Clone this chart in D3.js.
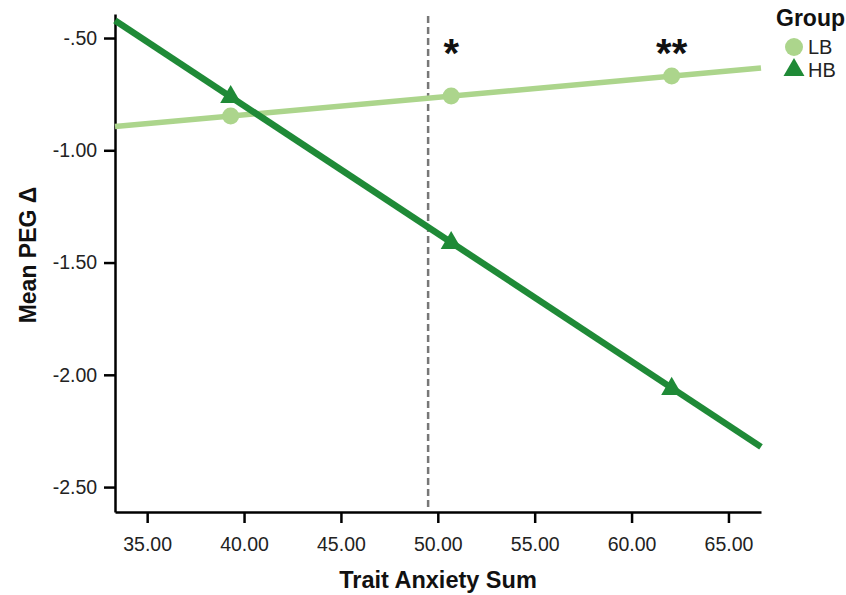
<!DOCTYPE html>
<html>
<head>
<meta charset="utf-8">
<script src="https://cdn.jsdelivr.net/npm/d3@7"></script>
<style>
  body { margin: 0; background: #fff; }
  svg { display: block; font-family: "Liberation Sans", Arial, sans-serif; }
</style>
</head>
<body>
<svg id="chart" width="846" height="595"></svg>
<script>
// ---- data ----
const groups = ["LB", "HB"];
const pointX = [39.31, 50.69, 62.07];          // mean -1SD, mean, +1SD of trait anxiety
const lbPointY = [-0.847, -0.758, -0.669];
const hbPointY = [-0.763, -1.413, -2.063];
const lineEndX = [33.34, 66.68];               // regression lines across the axis range
const lbLineY = [-0.894, -0.634];
const hbLineY = [-0.422, -2.321];
const cutoffX = 49.5;                           // dashed reference line
const sigMarks = [{ x: 50.69, label: "*" }, { x: 62.07, label: "**" }];
const xTicks = [35, 40, 45, 50, 55, 60, 65];
const yTicks = [-0.5, -1.0, -1.5, -2.0, -2.5];
const colors = { LB: "#acd58c", HB: "#1f8a37" };

// ---- layout ----
const svg = d3.select("#chart");
const m = { left: 115, right: 761, top: 14, bottom: 512 };
const x = d3.scaleLinear().domain([33.34, 66.68]).range([m.left, m.right]);
const y = d3.scaleLinear().domain([-2.611, -0.393]).range([m.bottom, m.top]);
const fmt = v => d3.format(".2f")(v).replace("\u2212", "-").replace(/^(-?)0\./, "$1.");

// axes
const xAxis = svg.append("g").attr("transform", `translate(0,${m.bottom})`)
  .call(d3.axisBottom(x).tickValues(xTicks).tickFormat(d3.format(".2f")).tickSize(11).tickSizeOuter(0));
const yAxis = svg.append("g").attr("transform", `translate(${m.left},0)`)
  .call(d3.axisLeft(y).tickValues(yTicks).tickFormat(fmt).tickSize(11).tickSizeOuter(0));
[xAxis, yAxis].forEach(g => {
  g.select(".domain").attr("stroke", "#000").attr("stroke-width", 2.5);
  g.selectAll(".tick line").attr("stroke", "#000").attr("stroke-width", 2.5);
  g.selectAll(".tick text").attr("fill", "#222").attr("font-size", 19.5)
    .attr("font-family", "Liberation Sans, Arial, sans-serif");
});
xAxis.selectAll(".tick text").attr("dy", "1.3em");
yAxis.selectAll(".tick text").attr("dx", "-0.2em");

// axis titles
svg.append("text").attr("x", 438).attr("y", 588).attr("text-anchor", "middle")
  .attr("font-size", 23.5).attr("font-weight", "bold").attr("fill", "#111").text("Trait Anxiety Sum");
svg.append("text").attr("transform", "translate(36,255) rotate(-90)").attr("text-anchor", "middle")
  .attr("font-size", 23).attr("font-weight", "bold").attr("fill", "#111").text("Mean PEG Δ");

// dashed reference line
svg.append("line").attr("x1", x(cutoffX)).attr("x2", x(cutoffX))
  .attr("y1", m.top + 2).attr("y2", m.bottom - 2)
  .attr("stroke", "#777").attr("stroke-width", 2.5).attr("stroke-dasharray", "7,4");

// lines
const line = d3.line().x(d => x(d[0])).y(d => y(d[1]));
svg.append("path").datum(d3.zip(lineEndX, lbLineY)).attr("d", line)
  .attr("fill", "none").attr("stroke", colors.LB).attr("stroke-width", 5.5);
svg.append("path").datum(d3.zip(lineEndX, hbLineY)).attr("d", line)
  .attr("fill", "none").attr("stroke", colors.HB).attr("stroke-width", 6.5);

// markers
svg.selectAll(".lbpt").data(d3.zip(pointX, lbPointY)).join("circle")
  .attr("cx", d => x(d[0])).attr("cy", d => y(d[1])).attr("r", 8.5).attr("fill", colors.LB);
const tri = d3.symbol().type(d3.symbolTriangle).size(190);
svg.selectAll(".hbpt").data(d3.zip(pointX, hbPointY)).join("path")
  .attr("d", tri).attr("transform", d => `translate(${x(d[0])},${y(d[1])})`).attr("fill", colors.HB);

// significance marks
svg.selectAll(".sig").data(sigMarks).join("text")
  .attr("x", d => x(d.x)).attr("y", 67).attr("text-anchor", "middle")
  .attr("font-size", 40).attr("font-weight", "bold").attr("fill", "#111").text(d => d.label);

// legend
const lg = svg.append("g");
lg.append("text").attr("x", 776).attr("y", 26).attr("font-size", 23).attr("font-weight", "bold")
  .attr("fill", "#111").text("Group");
groups.forEach((gname, i) => {
  const cy = 47 + i * 23;
  if (gname === "LB") lg.append("circle").attr("cx", 794).attr("cy", cy).attr("r", 9).attr("fill", colors.LB);
  else lg.append("path").attr("d", tri).attr("transform", `translate(794,${cy})`).attr("fill", colors.HB);
  lg.append("text").attr("x", 808).attr("y", cy + 7).attr("font-size", 20).attr("fill", "#222").text(gname);
});
</script>
</body>
</html>
